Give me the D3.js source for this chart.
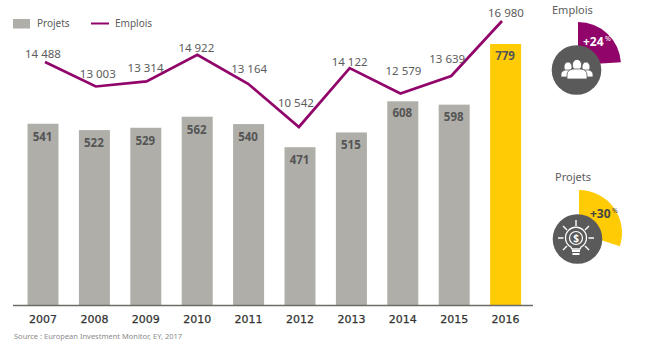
<!DOCTYPE html>
<html>
<head>
<meta charset="utf-8">
<script src="https://cdn.jsdelivr.net/npm/d3@7"></script>
<style>
  html, body { margin: 0; padding: 0; background: #fff; }
  svg { display: block; }
  text { font-family: "Noto Sans", sans-serif; }
</style>
</head>
<body>
<div id="container"></div>
<script>
// data
const years = ["2007", "2008", "2009", "2010", "2011", "2012", "2013", "2014", "2015", "2016"];
const projets = [541, 522, 529, 562, 540, 471, 515, 608, 598, 779];
const emplois = [14488, 13003, 13314, 14922, 13164, 10542, 14122, 12579, 13639, 16980];
const sideNames = ["Emplois", "Projets"];
const sideGrowth = [24, 30];

const width = 663;
const height = 351;
const baseY = 305;

const purple = "#91056a";
const yellow = "#ffcb05";
const barGrey = "#afaea9";
const darkGrey = "#5a5a5a";
const textGrey = "#5c5c5c";

const svg = d3.select("#container")
  .append("svg")
  .attr("width", width)
  .attr("height", height);

/* SCALES */
const xScale = d3.scaleBand()
  .domain(years)
  .range([17.3, 531.3])
  .paddingInner(.397)
  .paddingOuter(.1985);

// the line sits a bit off the bar centres in the original
const xLine = d3.scalePoint()
  .domain(years)
  .range([45, 502]);

const yBar = d3.scaleLinear()
  .domain([0, 779])
  .range([baseY, 44]);

const yLine = d3.scaleLinear()
  .domain([10542, 16980])
  .range([127, 21]);

const angle = d3.scaleLinear()
  .domain([0, 100])
  .range([0, 2 * Math.PI]);

// "14488" -> "14 488"
const fmt = v => d3.format(",")(v).replace(",", " ");

/* BARS */
svg.selectAll("rect.bar")
  .data(projets)
  .join("rect")
  .attr("class", "bar")
  .attr("x", (d, i) => xScale(years[i]))
  .attr("y", d => yBar(d))
  .attr("width", xScale.bandwidth())
  .attr("height", d => baseY - yBar(d))
  .attr("fill", (d, i) => i === years.length - 1 ? yellow : barGrey);

// bar labels, nudged per bar as in the original
const barLabelDy = [13, 13, 13, 13, 13, 13, 13, 12, 12, 12];
svg.selectAll("text.barlabel")
  .data(projets)
  .join("text")
  .attr("class", "barlabel")
  .attr("x", (d, i) => xScale(years[i]) + xScale.bandwidth() / 2 - .5)
  .attr("y", (d, i) => yBar(d) + barLabelDy[i] + 4)
  .attr("text-anchor", "middle")
  .attr("font-size", 11.5)
  .attr("font-weight", 700)
  .attr("fill", "#555")
  .text(d => d);

/* AXIS */
svg.append("line")
  .attr("x1", 13).attr("x2", 533)
  .attr("y1", baseY + .5).attr("y2", baseY + .5)
  .attr("stroke", "#6b6b68")
  .attr("stroke-width", 1.5);

svg.append("g")
  .attr("transform", `translate(0, ${baseY})`)
  .call(d3.axisBottom(xScale).tickSize(0).tickPadding(10))
  .call(g => g.select(".domain").remove())
  .call(g => g.selectAll("text")
    .attr("font-size", 11)
    .style("font-family", "'DejaVu Sans', sans-serif")
    .attr("fill", "#333")
    .attr("stroke", "#333")
    .attr("stroke-width", .25));

/* LINE */
const line = d3.line()
  .x((d, i) => xLine(years[i]))
  .y(d => yLine(d));

svg.append("path")
  .datum(emplois)
  .attr("d", line)
  .attr("fill", "none")
  .attr("stroke", purple)
  .attr("stroke-width", 2.7)
  .attr("stroke-linejoin", "miter");

// label offsets from each line point
const lineLabelDx = [-2, 2, -1, -1, 1, -3, 0, 3, -4, 4];
const lineLabelDy = [-4, -8.5, -9, -3, -11, -20, -2, -18, -13, -4];
svg.selectAll("text.linelabel")
  .data(emplois)
  .join("text")
  .attr("class", "linelabel")
  .attr("x", (d, i) => xLine(years[i]) + lineLabelDx[i])
  .attr("y", (d, i) => yLine(d) + lineLabelDy[i])
  .attr("text-anchor", "middle")
  .attr("font-size", 11.5)
  .attr("fill", textGrey)
  .text(d => fmt(d));

/* LEGEND */
svg.append("rect")
  .attr("x", 13).attr("y", 19)
  .attr("width", 17).attr("height", 9.5)
  .attr("fill", barGrey);
svg.append("text")
  .attr("x", 37).attr("y", 27)
  .attr("font-size", 10)
  .attr("fill", textGrey)
  .text("Projets");
svg.append("line")
  .attr("x1", 91).attr("x2", 109)
  .attr("y1", 23.5).attr("y2", 23.5)
  .attr("stroke", purple)
  .attr("stroke-width", 2);
svg.append("text")
  .attr("x", 115).attr("y", 27)
  .attr("font-size", 10)
  .attr("fill", textGrey)
  .text("Emplois");

/* SOURCE */
svg.append("text")
  .attr("x", 14).attr("y", 339)
  .attr("font-size", 7.5)
  .attr("fill", "#8a8a8a")
  .text("Source : European Investment Monitor, EY, 2017");

/* SIDE PANELS */
const arc = d3.arc().innerRadius(0).outerRadius(43).startAngle(0);
const panelX = [578, 579];
const panelY = [65, 233];
const titleX = [552, 555];
const titleY = [14, 181];
const wedgeColor = [purple, yellow];
const growthColor = ["#fff", "#444"];
const growthX = [5, 11];
const growthY = [-19, -15];

sideNames.forEach((name, i) => {
  svg.append("text")
    .attr("x", titleX[i]).attr("y", titleY[i])
    .attr("font-size", 11)
    .attr("fill", textGrey)
    .text(name);

  const g = svg.append("g")
    .attr("transform", `translate(${panelX[i]}, ${panelY[i]})`);

  g.append("path")
    .attr("d", arc({ endAngle: angle(sideGrowth[i]) }))
    .attr("fill", wedgeColor[i]);

  g.append("circle")
    .attr("cx", -1.5).attr("cy", i === 0 ? 5 : 6)
    .attr("r", 24.8)
    .attr("fill", darkGrey);

  g.append("text")
    .attr("x", growthX[i]).attr("y", growthY[i])
    .attr("font-size", 12)
    .attr("font-weight", 700)
    .attr("fill", growthColor[i])
    .text("+" + sideGrowth[i]);

  g.append("text")
    .attr("x", growthX[i] + 22).attr("y", growthY[i] - 5)
    .attr("font-size", 7)
    .attr("fill", growthColor[i])
    .text("%");
});

/* ICONS */
// people
const people = svg.append("g")
  .attr("transform", "translate(577, 70)")
  .attr("fill", "#fff")
  .attr("stroke", darkGrey)
  .attr("stroke-width", .8);

[-9, 9].forEach(dx => {
  people.append("ellipse").attr("cx", dx).attr("cy", -3).attr("rx", 4).attr("ry", 5);
  people.append("path")
    .attr("d", `M${dx - 7},7 v-3 q0,-3 4,-4 h6 q4,1 4,4 v3 z`);
});
people.append("ellipse").attr("cx", 0).attr("cy", -5).attr("rx", 4.6).attr("ry", 5.6);
people.append("path").attr("d", "M-10,9 v-4 q0,-5 6,-6 h8 q6,1 6,6 v4 z");

// light bulb
const bulb = svg.append("g")
  .attr("transform", "translate(576, 238)")
  .attr("stroke", "#fff")
  .attr("fill", "none");

bulb.append("path")
  .attr("stroke-width", 1.3)
  .attr("d", "M-5,9 A10.5,10.5 0 1 1 5,9 L4,11 H-4 Z");
bulb.append("circle")
  .attr("r", 6.5)
  .attr("stroke-width", 1.2);
bulb.append("text")
  .attr("y", 3.5)
  .attr("text-anchor", "middle")
  .attr("font-size", 10)
  .attr("font-weight", 700)
  .attr("fill", "#fff")
  .attr("stroke", "none")
  .text("$");
bulb.append("path")
  .attr("stroke-width", 2)
  .attr("d", "M-4,13 H4 M-3.5,16 H3.5");
bulb.append("path")
  .attr("stroke-width", 1.4)
  .attr("d", "M0,-18 V-12 M-13,-12 L-9,-8 M13,-12 L9,-8 M-18,0 H-12.5 M18,0 H12.5 M-13,12 L-9,8 M13,12 L9,8");
</script>
</body>
</html>
